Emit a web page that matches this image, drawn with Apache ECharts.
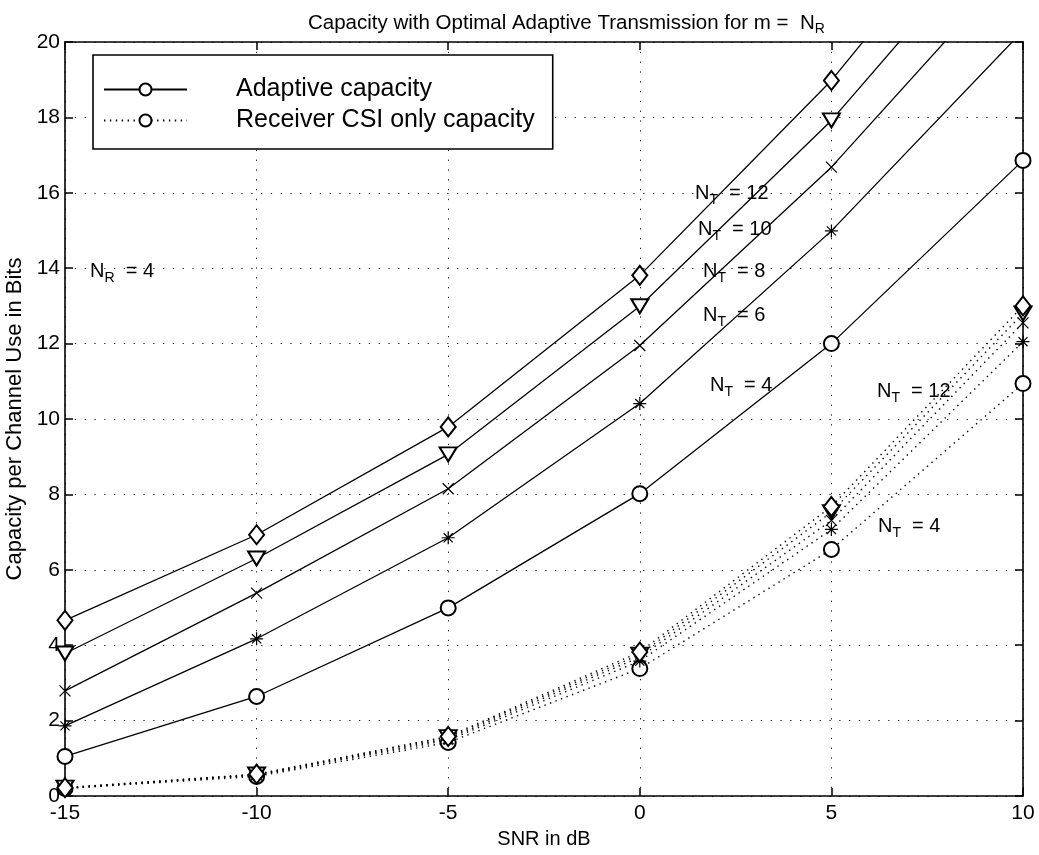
<!DOCTYPE html>
<html>
<head>
<meta charset="utf-8">
<script src="https://cdn.jsdelivr.net/npm/echarts@6/dist/echarts.min.js"></script>
<style>
  html, body { margin: 0; padding: 0; background: #fff; }
  #main { width: 1039px; height: 855px; }
</style>
</head>
<body>
<div id="main"></div>
<script>
// SNR points (dB)
var snr = [-15, -10, -5, 0, 5, 10];

// adaptive capacity, one array per N_T
var adapt4  = [1.05, 2.64, 4.99, 8.02, 12.0, 16.86];
var adapt6  = [1.86, 4.17, 6.85, 10.41, 14.99, 20.3];
var adapt8  = [2.79, 5.38, 8.15, 11.95, 16.68, 22.3];
var adapt10 = [3.78, 6.30, 9.06, 12.99, 17.92, 23.8];
var adapt12 = [4.66, 6.93, 9.79, 13.81, 18.98, 25.2];

// receiver CSI only capacity
var csi4  = [0.20, 0.52, 1.42, 3.38, 6.54, 10.94];
var csi6  = [0.20, 0.55, 1.48, 3.58, 7.07, 12.05];
var csi8  = [0.21, 0.56, 1.52, 3.68, 7.31, 12.55];
var csi10 = [0.22, 0.57, 1.56, 3.75, 7.53, 12.80];
var csi12 = [0.22, 0.58, 1.58, 3.82, 7.68, 13.00];

var xTicks = [-15, -10, -5, 0, 5, 10];
var yTicks = [0, 2, 4, 6, 8, 10, 12, 14, 16, 18, 20];

var FONT = 'Liberation Sans';

// marker shapes
var xMark = 'path://M0,0L10,10M10,0L0,10';
var starMark = 'path://M5,0L5,10M0,5L10,5M1.5,1.5L8.5,8.5M8.5,1.5L1.5,8.5';

function pairs(vals) {
    var out = [];
    for (var i = 0; i < snr.length; i++) out.push([snr[i], vals[i]]);
    return out;
}

function mkSeries(name, vals, symbol, size, dotted, rotate) {
    return {
        name: name,
        type: 'line',
        data: pairs(vals),
        symbol: symbol,
        symbolSize: size,
        symbolRotate: rotate || 0,
        showAllSymbol: true,
        clip: true,
        silent: true,
        lineStyle: { color: '#000', width: dotted ? 1.4 : 1.3, type: dotted ? [1.4, 4.5] : 'solid' },
        itemStyle: { color: '#000', borderColor: '#000', borderWidth: 1.2 },
        z: 3
    };
}

var series = [
    mkSeries('a4', adapt4, 'emptyCircle', 15, false),
    mkSeries('a6', adapt6, starMark, 13, false),
    mkSeries('a8', adapt8, xMark, 11, false),
    mkSeries('a10', adapt10, 'emptyTriangle', [17, 14], false, 180),
    mkSeries('a12', adapt12, 'emptyDiamond', [15, 19], false),
    mkSeries('c4', csi4, 'emptyCircle', 15, true),
    mkSeries('c6', csi6, starMark, 13, true),
    mkSeries('c8', csi8, xMark, 11, true),
    mkSeries('c10', csi10, 'emptyTriangle', [17, 14], true, 180),
    mkSeries('c12', csi12, 'emptyDiamond', [15, 19], true),
    // legend entries
    { name: 'Adaptive capacity', type: 'line', data: [], symbol: 'emptyCircle', symbolSize: 15,
      lineStyle: { color: '#000', width: 1.3 }, itemStyle: { color: '#000', borderColor: '#000' } },
    { name: 'Receiver CSI only capacity', type: 'line', data: [], symbol: 'emptyCircle', symbolSize: 15,
      lineStyle: { color: '#000', width: 1.4, type: [1.4, 4.5] }, itemStyle: { color: '#000', borderColor: '#000' } }
];

var gridDots = { show: true, lineStyle: { color: '#222', width: 1, type: [1.3, 8.5] } };
var axisLine = { show: true, onZero: false, lineStyle: { color: '#000', width: 1.6 } };
var tickIn = { show: true, inside: true, length: 8, lineStyle: { color: '#000', width: 1.5 } };

function label(main, sub, rest) {
    return '{n|' + main + '}{s|' + sub + '}{e|' + rest + '}';
}
var labRich = {
    n: { fontFamily: FONT, fontSize: 20, color: '#000' },
    s: { fontFamily: FONT, fontSize: 14, color: '#000', padding: [15, 0, 0, 0] },
    e: { fontFamily: FONT, fontSize: 20, color: '#000' }
};
function annot(x, y, main, sub, rest) {
    return { type: 'text', left: x, top: y, z: 10,
             style: { text: label(main, sub, rest), rich: labRich, fill: '#000' } };
}

var myChart = echarts.init(document.getElementById('main'));

var option = {
    backgroundColor: '#fff',
    animation: false,
    color: ['#000'],
    title: {
        text: 'Capacity with Optimal Adaptive Transmission for m =  N{s|R}',
        left: 303,
        top: 5,
        textStyle: {
            fontFamily: FONT, fontSize: 20.5, fontWeight: 'normal', color: '#000',
            rich: { s: { fontFamily: FONT, fontSize: 14, color: '#000', padding: [12, 0, 0, 0] } }
        }
    },
    legend: {
        data: ['Adaptive capacity', 'Receiver CSI only capacity'],
        orient: 'vertical',
        left: 93,
        top: 55,
        padding: [22, 18, 16, 10],
        itemGap: 6,
        itemWidth: 83,
        itemHeight: 15,
        borderColor: '#000',
        borderWidth: 1.6,
        backgroundColor: '#fff',
        selectedMode: false,
        textStyle: { fontFamily: FONT, fontSize: 25, color: '#000', padding: [0, 0, 0, 44] }
    },
    grid: { left: 65, right: 16, top: 42, bottom: 59, containLabel: false, outerBoundsMode: 'none' },
    xAxis: [{
        type: 'value', min: -15, max: 10, interval: 5,
        name: 'SNR in dB', nameLocation: 'middle', nameGap: 33,
        nameTextStyle: { fontFamily: FONT, fontSize: 20, color: '#000' },
        axisLine: axisLine,
        axisTick: tickIn,
        axisLabel: { fontFamily: FONT, fontSize: 21, color: '#000', margin: 7,
                     formatter: function (v) { return xTicks.indexOf(v) >= 0 ? String(v) : ''; } },
        splitLine: gridDots
    }, {
        type: 'value', min: -15, max: 10, interval: 5, position: 'top',
        axisLine: axisLine,
        axisTick: tickIn,
        axisLabel: { show: false }, splitLine: { show: false }
    }],
    yAxis: [{
        type: 'value', min: 0, max: 20, interval: 2,
        name: 'Capacity per Channel Use in Bits', nameLocation: 'middle', nameGap: 31,
        nameTextStyle: { fontFamily: FONT, fontSize: 22, color: '#000' },
        axisLine: axisLine,
        axisTick: tickIn,
        axisLabel: { fontFamily: FONT, fontSize: 21, color: '#000', margin: 5,
                     formatter: function (v) { return yTicks.indexOf(v) >= 0 ? String(v) : ''; } },
        splitLine: gridDots
    }, {
        type: 'value', min: 0, max: 20, interval: 2, position: 'right',
        axisLine: axisLine,
        axisTick: tickIn,
        axisLabel: { show: false }, splitLine: { show: false }
    }],
    graphic: [
        annot(695, 183, 'N', 'T', '  = 12'),
        annot(698, 219, 'N', 'T', '  = 10'),
        annot(703, 261, 'N', 'T', '  = 8'),
        annot(703, 305, 'N', 'T', '  = 6'),
        annot(710, 375, 'N', 'T', '  = 4'),
        annot(90, 261, 'N', 'R', '  = 4'),
        annot(877, 381, 'N', 'T', '  = 12'),
        annot(878, 516, 'N', 'T', '  = 4')
    ],
    series: series
};

myChart.setOption(option);
</script>
</body>
</html>
